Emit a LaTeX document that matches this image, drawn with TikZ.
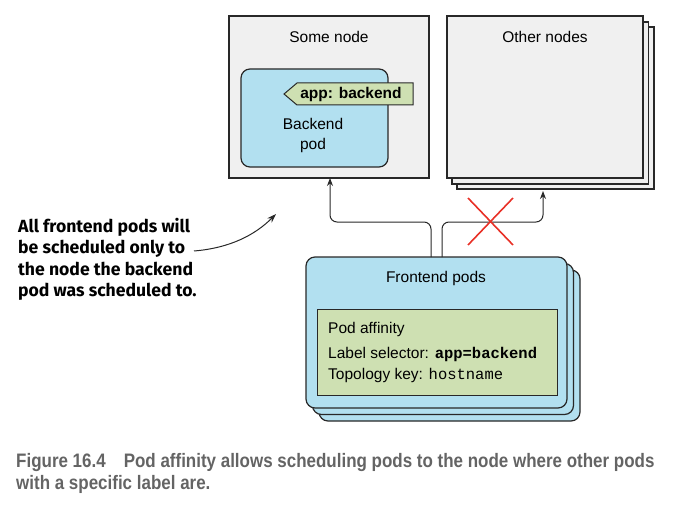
\documentclass[tikz,border=0pt]{standalone}
\usepackage{fontspec}
\setmainfont{Liberation Sans}
\newfontfamily\codefont{Liberation Mono}
\newfontfamily\notefont{Fira Sans}
\newfontfamily\capfont[FakeStretch=0.87]{Liberation Sans}
\usetikzlibrary{arrows.meta}
\definecolor{nodegray}{RGB}{240,240,240}
\definecolor{podblue}{RGB}{178,224,240}
\definecolor{taggreen}{RGB}{206,224,178}
\definecolor{edgegray}{RGB}{40,40,40}
\definecolor{crossred}{RGB}{232,48,38}
\definecolor{capgray}{RGB}{100,100,100}
\tikzset{
  nodebox/.style={draw=edgegray, line width=1.2pt, fill=nodegray},
  podbox/.style={draw=edgegray, line width=1.2pt, fill=podblue, rounded corners=9pt},
  greenbox/.style={draw=edgegray, line width=1pt, fill=taggreen},
  lbl/.style={font=\fontsize{15.5}{18}\selectfont, inner sep=0pt},
  conn/.style={draw=edgegray, line width=1pt, rounded corners=7pt, -{Stealth[length=8pt,width=6pt]}},
  cross/.style={draw=crossred, line width=1.6pt},
  captext/.style={anchor=west, inner sep=0pt, text=capgray, font=\capfont\bfseries\fontsize{19.5}{22}\selectfont},
}
\begin{document}
\begin{tikzpicture}[x=1pt,y=-1pt]
\useasboundingbox (0,0) rectangle (693,508);
% Some node
\draw[nodebox] (229,16) rectangle (429,178);
\node[lbl] (somenode) at (329,37) {Some node};
\draw[podbox] (241,69) rectangle (388,167);
\node[lbl, align=center, font=\fontsize{15.5}{20}\selectfont] (backend) at (313,135) {Backend\\pod};
\draw[greenbox] (284,94) -- (297,83) -- (413,83) -- (413,105) -- (297,105) -- cycle;
\node[lbl, font=\fontsize{15.5}{18}\selectfont\bfseries] (tag) at (351,94) {app: backend};
% Other nodes
\draw[nodebox] (457,27) rectangle (654,189);
\draw[nodebox] (452,22) rectangle (648.5,184);
\draw[nodebox] (447,16) rectangle (643,178);
\node[lbl] (othernodes) at (545,37) {Other nodes};
% Frontend pods
\draw[podbox] (319,270) rectangle (580,421);
\draw[podbox] (312.5,263.5) rectangle (573.5,414.5);
\draw[podbox] (306,257) rectangle (567,408);
\node[lbl] (frontend) at (436,278) {Frontend pods};
\draw[greenbox] (317,309) rectangle (557,395);
\node[lbl, anchor=west] (affinity) at (328,329) {Pod affinity};
\node[lbl, anchor=west] (selector) at (328,354) {Label selector: {\codefont\bfseries app=backend}};
\node[lbl, anchor=west] (topology) at (328,375.5) {Topology key: {\codefont hostname}};
% connectors
\coordinate (fl) at (431,257);
\coordinate (fr) at (442,257);
\coordinate (sn) at (330,178);
\coordinate (on) at (543,191);
\draw[conn] (fl) |- (380,222) -| (sn);
\draw[conn] (fr) |- (490,222) -| (on);
% red cross
\draw[cross] (468,198) -- (513,245);
\draw[cross] (513,198) -- (468,245);
% annotation
\node[anchor=north west, align=left, inner sep=0pt, font=\notefont\bfseries\fontsize{17.6}{21.5}\selectfont, text=black] (note) at (18,218) {All frontend pods will\\be scheduled only to\\the node the backend\\pod was scheduled to.};
\coordinate (notetip) at (276,214);
\draw[draw=edgegray, line width=1pt, -{Stealth[length=9pt,width=6pt]}] (194,251) .. controls (230,248) and (255,235) .. (notetip);
% caption
\node[captext] (cap1) at (16,462) {Figure 16.4\hspace{18pt}Pod affinity allows scheduling pods to the node where other pods};
\node[captext] (cap2) at (16,484) {with a specific label are.};
\end{tikzpicture}
\end{document}
